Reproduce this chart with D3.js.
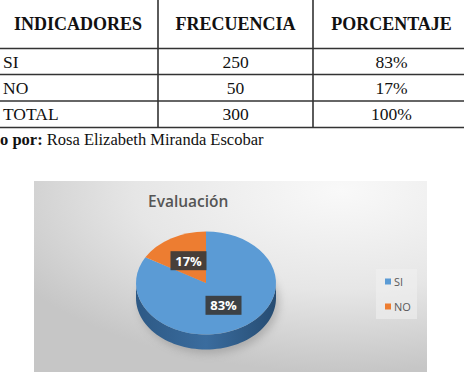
<!DOCTYPE html>
<html><head><meta charset="utf-8">
<script src="https://cdn.jsdelivr.net/npm/d3@7"></script>
<style>html,body{margin:0;padding:0;background:#fff;overflow:hidden}</style>
</head><body>
<svg id="c" width="464" height="378"></svg>
<script>
const headers = ["INDICADORES","FRECUENCIA","PORCENTAJE"];
const categories = ["SI","NO"];
const frecuencia = [250,50];
const porcentaje = ["83%","17%"];
const totalLabel = "TOTAL";
const totalFrecuencia = 300;
const totalPorcentaje = "100%";
const chartTitle = "Evaluación";
const colors = ["#5B9BD5","#ED7D31"];

const svg = d3.select("#c");
const defs = svg.append("defs");

// ---------- Table ----------
const colEdges = [-2,158,313,470];
const rowEdges = [-2,48.5,74.5,101,127.5];
const tx = d3.scaleOrdinal().domain([0,1,2]).range([0,1,2].map(i=>(colEdges[i]+colEdges[i+1])/2));
const rows = categories.map((c,i)=>[c, String(frecuencia[i]), porcentaje[i]]);
rows.push([totalLabel, String(totalFrecuencia), totalPorcentaje]);
const tbl = svg.append("g");
tbl.selectAll("line.h").data(rowEdges.slice(1)).join("line")
  .attr("x1",0).attr("x2",464).attr("y1",d=>d).attr("y2",d=>d)
  .attr("stroke","#333").attr("stroke-width",1.6);
tbl.selectAll("line.v").data(colEdges.slice(1,3)).join("line")
  .attr("x1",d=>d).attr("x2",d=>d).attr("y1",0).attr("y2",rowEdges[4])
  .attr("stroke","#333").attr("stroke-width",1.6);
tbl.selectAll("text.hd").data(headers).join("text")
  .attr("x",(d,i)=>tx(i)).attr("y",30).attr("text-anchor","middle")
  .attr("font-family","Liberation Serif").attr("font-weight","bold").attr("font-size",18)
  .attr("fill","#111").text(d=>d);
rows.forEach((r,ri)=>{
  const y = (rowEdges[ri+1]+rowEdges[ri+2])/2 + 6;
  r.forEach((v,ci)=>{
    tbl.append("text").attr("x", ci===0?3:tx(ci)).attr("y",y)
      .attr("text-anchor", ci===0?"start":"middle")
      .attr("font-family","Liberation Serif").attr("font-size",17.5).attr("fill","#111").text(v);
  });
});
const cap = svg.append("text").attr("x",0).attr("y",145)
  .attr("font-family","Liberation Serif").attr("font-size",16.5).attr("fill","#111");
cap.append("tspan").attr("font-weight","bold").text("o por: ");
cap.append("tspan").text("Rosa Elizabeth Miranda Escobar");

// ---------- Chart ----------
const bg = defs.append("radialGradient").attr("id","bg")
  .attr("cx","0.78").attr("cy","0.05").attr("r","0.95");
bg.append("stop").attr("offset","0").attr("stop-color","#f9f9f9");
bg.append("stop").attr("offset","0.55").attr("stop-color","#e6e6e6");
bg.append("stop").attr("offset","1").attr("stop-color","#c6c6c6");
svg.append("rect").attr("x",34).attr("y",181).attr("width",393).attr("height",191).attr("fill","url(#bg)");

svg.append("text").attr("x",148).attr("y",207).attr("font-family","Open Sans").attr("font-weight",600)
  .attr("font-size",15.5).attr("fill","#555").text(chartTitle);

const cx = 206, cy = 283, rx = 70, ry = 51.5, depth = 15;
const pie = d3.pie().sort(null).startAngle(0).endAngle(2*Math.PI);
const arcs = pie(frecuencia);

// shadow
const blur = defs.append("filter").attr("id","blur").attr("x","-50%").attr("y","-50%").attr("width","200%").attr("height","200%");
blur.append("feGaussianBlur").attr("stdDeviation",4);
svg.append("ellipse").attr("cx",cx+3).attr("cy",cy+depth+4).attr("rx",rx).attr("ry",ry)
  .attr("fill","#666").attr("opacity",0.35).attr("filter","url(#blur)");

// side
const sideGrad = defs.append("linearGradient").attr("id","side").attr("x1","0").attr("x2","1").attr("y1","0").attr("y2","0");
sideGrad.append("stop").attr("offset","0").attr("stop-color","#2d5985");
sideGrad.append("stop").attr("offset","0.5").attr("stop-color","#3a6c9e");
sideGrad.append("stop").attr("offset","1").attr("stop-color","#264c72");
const px = a => cx + rx*Math.sin(a), py = a => cy - ry*Math.cos(a);
arcs.forEach((a,i)=>{
  const s = Math.max(a.startAngle, Math.PI/2), e = Math.min(a.endAngle, 3*Math.PI/2);
  if (e <= s) return;
  const n = 60, pts = [];
  for (let k=0;k<=n;k++){ const t = s+(e-s)*k/n; pts.push([px(t),py(t)]); }
  for (let k=n;k>=0;k--){ const t = s+(e-s)*k/n; pts.push([px(t),py(t)+depth]); }
  svg.append("path").attr("d", d3.line()(pts)+"Z").attr("fill", i===0?"url(#side)":"#b35a1f");
});

// top face
const arc = d3.arc().innerRadius(0).outerRadius(rx);
const topFace = svg.append("g").attr("transform",`translate(${cx},${cy}) scale(1,${ry/rx})`);
topFace.selectAll("path").data(arcs).join("path").attr("d",arc).attr("fill",(d,i)=>colors[i]);

// labels
const lab = d3.arc().innerRadius(rx*0.5).outerRadius(rx*0.5);
arcs.forEach((a,i)=>{
  const [lx,ly] = lab.centroid(a);
  const X = cx+lx, Y = cy+ly*ry/rx;
  svg.append("rect").attr("x",X-18).attr("y",Y-9.5).attr("width",36).attr("height",19)
    .attr("fill","#3a3a3a").attr("opacity",0.92);
  svg.append("text").attr("x",X).attr("y",Y+5).attr("text-anchor","middle")
    .attr("font-family","Open Sans").attr("font-weight","bold").attr("font-size",13)
    .attr("fill","#fff").text(porcentaje[i]);
});

// legend
svg.append("rect").attr("x",376).attr("y",269).attr("width",41).attr("height",50).attr("fill","#f0f0f0").attr("opacity",0.6);
const legY = d3.scalePoint().domain(categories).range([282,307]);
categories.forEach((c,i)=>{
  svg.append("rect").attr("x",385).attr("y",legY(c)-3.5).attr("width",6).attr("height",6).attr("fill",colors[i]);
  svg.append("text").attr("x",394).attr("y",legY(c)+4).attr("font-family","Open Sans").attr("font-size",11)
    .attr("fill","#595959").text(c);
});
</script>
</body></html>
